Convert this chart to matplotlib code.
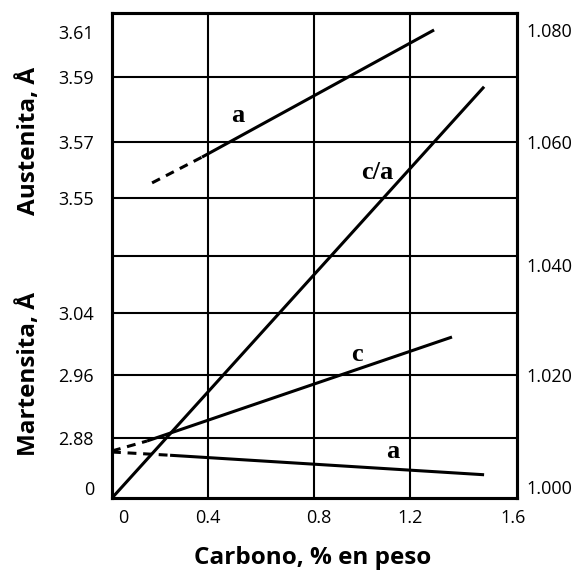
import numpy as np
import matplotlib
matplotlib.use("Agg")
import matplotlib.pyplot as plt

# ---------------- data ----------------
carbon_ticks = [0, 0.4, 0.8, 1.2, 1.6]
carbon_tick_labels = ["0", "0.4", "0.8", "1.2", "1.6"]

austenite_ticks = [3.55, 3.57, 3.59, 3.61]
martensite_ticks = [2.88, 2.96, 3.04]
ratio_ticks = [1.000, 1.020, 1.040, 1.060, 1.080]

# austenite lattice parameter a (dashed extrapolation + measured solid)
aus_a_dash_x = [0.167, 0.375]
aus_a_dash_y = [3.5554, 3.5646]
aus_a_x = [0.375, 1.29]
aus_a_y = [3.5646, 3.6047]

# martensite c
mart_c_dash_x = [0.0, 0.146]
mart_c_dash_y = [2.8627, 2.876]
mart_c_x = [0.146, 1.357]
mart_c_y = [2.876, 3.009]

# martensite a
mart_a_dash_x = [0.0, 0.242]
mart_a_dash_y = [2.8613, 2.857]
mart_a_x = [0.242, 1.477]
mart_a_y = [2.857, 2.831]

# c/a ratio
ca_x = [0.0, 1.477]
ca_y = [1.000, 1.0685]

# ---------------- value -> plot height (grid units 0..8) ----------------
def ratio_to_g(v):
    return (np.asarray(v) - 1.0) / 0.01

def aus_to_g(v):
    return 5 + (np.asarray(v) - 3.55) / 0.02

def mart_to_g(v):
    return 1 + (np.asarray(v) - 2.88) / 0.08

def pw(xp, fp):
    xp = np.asarray(xp, float)
    fp = np.asarray(fp, float)
    def f(v):
        v = np.asarray(v, float)
        out = np.interp(v, xp, fp)
        lo_s = (fp[1] - fp[0]) / (xp[1] - xp[0])
        hi_s = (fp[-1] - fp[-2]) / (xp[-1] - xp[-2])
        out = np.where(v < xp[0], fp[0] + (v - xp[0]) * lo_s, out)
        out = np.where(v > xp[-1], fp[-1] + (v - xp[-1]) * hi_s, out)
        return out
    return f

# hand-drawn grid spacing of the original
x_pix = [0, 96, 202, 298, 405]
g_lv = list(range(9))
g_pix = [0, 60, 123, 185, 242, 300, 356, 421, 485]

fig = plt.figure(figsize=(5.82, 5.71), dpi=100)
ax = fig.add_axes([112 / 582, 1 - 498 / 571, 405 / 582, 485 / 571])
ax.set_xscale("function", functions=(pw(carbon_ticks, x_pix), pw(x_pix, carbon_ticks)))
ax.set_yscale("function", functions=(pw(g_lv, g_pix), pw(g_pix, g_lv)))
ax.set_xlim(0, 1.6)
ax.set_ylim(0, 8)

# grid
for xv in carbon_ticks[1:-1]:
    ax.axvline(xv, color="black", lw=1.5, zorder=1)
for gv in range(1, 8):
    ax.axhline(gv, color="black", lw=1.5, zorder=1)

lw = 2.2
dash = (0, (2.9, 2.2))
ax.plot(aus_a_dash_x, aus_to_g(aus_a_dash_y), color="black", lw=lw, ls=dash)
ax.plot(aus_a_x, aus_to_g(aus_a_y), color="black", lw=lw, solid_capstyle="butt")
ax.plot(mart_c_dash_x, mart_to_g(mart_c_dash_y), color="black", lw=lw, ls=dash)
ax.plot(mart_c_x, mart_to_g(mart_c_y), color="black", lw=lw, solid_capstyle="butt")
ax.plot(mart_a_dash_x, mart_to_g(mart_a_dash_y), color="black", lw=lw, ls=dash)
ax.plot(mart_a_x, mart_to_g(mart_a_y), color="black", lw=lw, solid_capstyle="butt")
ax.plot(ca_x, ratio_to_g(ca_y), color="black", lw=lw, solid_capstyle="butt")

for s in ax.spines.values():
    s.set_linewidth(2.2)

tick_family = ["Open Sans", "DejaVu Sans"]
xpos = list(carbon_ticks)
xpos[0] += 0.045
xpos[2] += 0.02
xpos[-1] -= 0.015
ax.set_xticks(xpos)
ax.set_xticklabels(carbon_tick_labels)
ax.tick_params(axis="x", length=0, pad=8, labelsize=13)
for lab in ax.get_xticklabels():
    lab.set_fontfamily(tick_family)

# left labels (broken axis)
left_pos = [0.17] + list(mart_to_g(martensite_ticks)) + list(aus_to_g(austenite_ticks))
left_pos[-1] -= 0.3
ax.set_yticks(left_pos)
ax.set_yticklabels(["0"] + [f"{v:.2f}" for v in martensite_ticks + austenite_ticks])
ax.tick_params(axis="y", length=0, pad=13, labelsize=13)
for lab in ax.get_yticklabels():
    lab.set_fontfamily(tick_family)

# right axis: c/a
ax2 = ax.twinx()
ax2.set_yscale("function", functions=(pw(g_lv, g_pix), pw(g_pix, g_lv)))
ax2.set_ylim(0, 8)
rpos = list(ratio_to_g(ratio_ticks))
rpos[0] += 0.18
rpos[2] -= 0.15
rpos[-1] -= 0.27
ax2.set_yticks(rpos)
ax2.set_yticklabels([f"{v:.3f}" for v in ratio_ticks])
ax2.tick_params(axis="y", length=0, pad=7, labelsize=13)
for lab in ax2.get_yticklabels():
    lab.set_fontfamily(tick_family)
for s in ax2.spines.values():
    s.set_linewidth(2.2)

# curve labels
serif = dict(family=["Liberation Serif", "DejaVu Serif"], weight="bold", size=19,
             ha="center", va="center")
ax.text(0.513, 6.40, "a", **serif)
ax.text(1.062, 5.45, "c/a", **serif)
ax.text(0.979, 2.33, "c", **serif)
ax.text(1.129, 0.78, "a", **serif)

# axis titles
lab_font = dict(family=["Open Sans", "DejaVu Sans"], weight="bold", size=17.5)
fig.text(29 / 582, 1 - 141 / 571, "Austenita, Å", rotation=90, ha="center", va="center", **lab_font)
fig.text(29 / 582, 1 - 374 / 571, "Martensita, Å", rotation=90, ha="center", va="center", **lab_font)
fig.text(313 / 582, 1 - 558 / 571, "Carbono, % en peso", ha="center", va="center", **lab_font)

fig.savefig("out.png", dpi=100)
